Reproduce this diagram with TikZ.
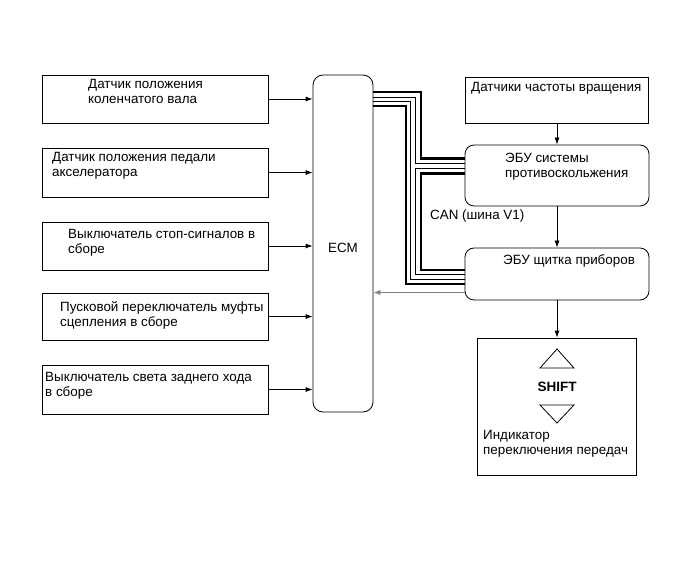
\documentclass[tikz,border=0pt]{standalone}
\usepackage{fontspec}
\setmainfont{Liberation Sans}
\usetikzlibrary{arrows.meta}

\tikzset{
  box/.style={draw,line width=0.8pt,inner sep=0pt},
  rbox/.style={box,rounded corners=9pt},
  txt/.style={anchor=north west,inner sep=0pt,align=left,execute at begin node=\strut},
  busthick/.style={line width=2.6pt},
  busthin/.style={line width=0.8pt},
  feed/.style={->,line width=0.8pt}
}

\begin{document}
\begin{tikzpicture}[x=1pt,y=-1pt,>={Latex[length=7pt,width=5pt]},font=\fontsize{13.4}{15}\selectfont]

        \useasboundingbox (0,0) rectangle (691,564);

        \begin{scope}[every node/.style={box,minimum width=226pt}]
          \node (crank)  at (155,99)    [minimum height=48pt] {};
          \node (pedal)  at (155,172.5) [minimum height=49pt] {};
          \node (stop)   at (155,246)   [minimum height=48pt] {};
          \node (clutch) at (155,316.5) [minimum height=47pt] {};
          \node (rev)    at (155,389.5) [minimum height=49pt] {};
        \end{scope}

        \node (ecm)  at (343,243.5) [rbox,rounded corners=10pt,minimum width=60pt,minimum height=337pt] {};
        \node (sens) at (557,100)   [box,minimum width=183pt,minimum height=46pt] {};
        \node (abs)  at (557,175.5) [rbox,minimum width=184pt,minimum height=61pt] {};
        \node (comb) at (557,274)   [rbox,minimum width=184pt,minimum height=52pt] {};
        \node (ind)  at (557,406.5) [box,minimum width=159pt,minimum height=137pt] {};

        \begin{scope}[every node/.style={txt}]
          \node (tcrank)  at (88,79)     {Датчик положения\\коленчатого вала};
          \node (tpedal)  at (52,152.3)  {Датчик положения педали\\акселератора};
          \node (tstop)   at (68,229)    {Выключатель стоп-сигналов в\\сборе};
          \node (tclutch) at (60,301.7)  {Пусковой переключатель муфты\\сцепления в сборе};
          \node (trev)    at (45,372.3)  {Выключатель света заднего хода\\в сборе};
          \node (tsens)   at (471,80.7)  {Датчики частоты вращения};
          \node (tabs)    at (505,153)   {ЭБУ системы\\противоскольжения};
          \node (tcomb)   at (503,254)   {ЭБУ щитка приборов};
          \node (tind)    at (483,430)   {Индикатор\\переключения передач};
          \node (tcan)    at (430,209)   {CAN (шина V1)};
        \end{scope}

        \node (tecm)  at (343,248) {ECM};
        \node (shift) at (557,387) [font=\fontsize{13.5}{15}\selectfont\bfseries] {SHIFT};
        \draw[line width=0.8pt] (540,368) -- (557,349) -- (574,368) -- cycle;
        \draw[line width=0.8pt] (540,405) -- (557,423) -- (574,405) -- cycle;

        \draw[feed] (crank)  -- (crank -| ecm.west);
        \draw[feed] (pedal)  -- (pedal -| ecm.west);
        \draw[feed] (stop)   -- (stop -| ecm.west);
        \draw[feed] (clutch) -- (clutch -| ecm.west);
        \draw[feed] (rev)    -- (rev -| ecm.west);

        \draw[feed] (sens) -- (abs);
        \draw[feed] (abs)  -- (comb);
        \draw[feed] (comb) -- (ind);
        \draw[feed,gray] (comb.west |- 0,292.5) -- (ecm.east |- 0,292.5);

        \draw[busthick] (ecm.east |- 0,92)    -- (421,92)    -- (421,158.5) -- (abs.west |- 0,158.5);
        \draw[busthin]  (ecm.east |- 0,97.5)  -- (415,97.5)  -- (415,163.5) -- (abs.west |- 0,163.5);
        \draw[busthin]  (ecm.east |- 0,101.5) -- (410.5,101.5) -- (410.5,279) -- (comb.west |- 0,279);
        \draw[busthick] (ecm.east |- 0,106)   -- (406,106)   -- (406,284)   -- (comb.west |- 0,284);
        \draw[busthin]  (abs.west |- 0,168.5) -- (415,168.5) -- (415,274.5) -- (comb.west |- 0,274.5);
        \draw[busthick] (abs.west |- 0,173.5) -- (421,173.5) -- (421,270)   -- (comb.west |- 0,270);

      \end{tikzpicture}
\end{document}
